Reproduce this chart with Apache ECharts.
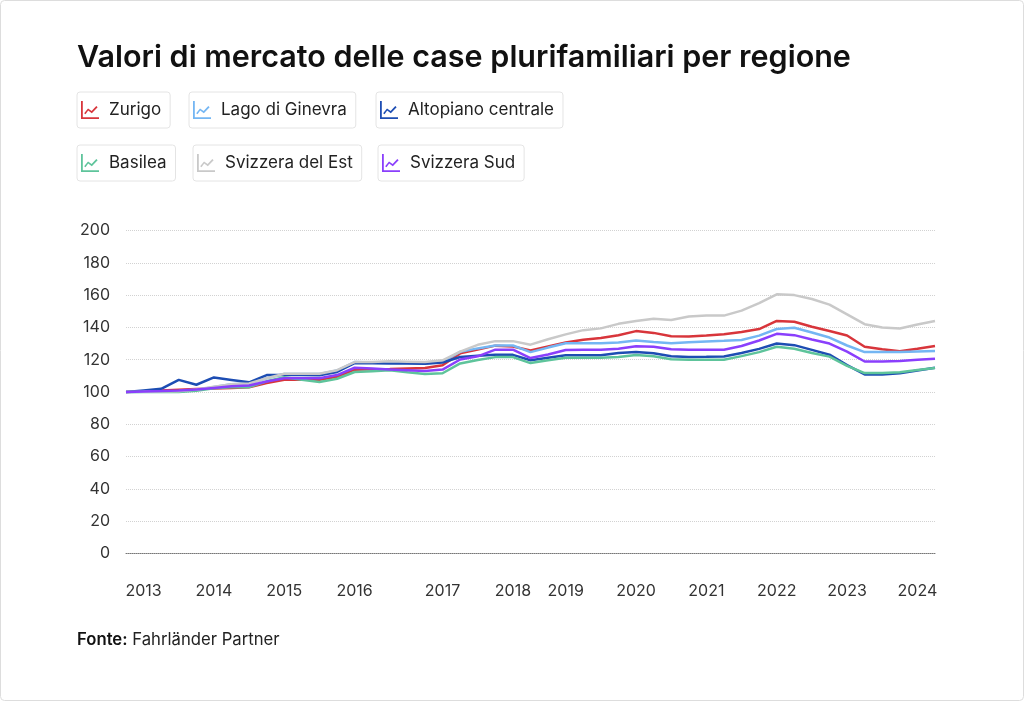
<!DOCTYPE html>
<html>
<head>
<meta charset="utf-8">
<script src="https://cdn.jsdelivr.net/npm/echarts@6/dist/echarts.min.js"></script>
<style>
  html, body { margin: 0; padding: 0; background: #fff; }
  #chart { width: 1024px; height: 701px; }
</style>
</head>
<body>
<div id="chart"></div>
<script>
// quarterly index values (2013 Q1 = 100)
const tickLabels = ['', '2013', '', '', '', '2014', '', '', '', '2015', '', '', '', '2016', '', '', '', '',
  '2017', '', '', '', '2018', '', '', '2019', '', '', '', '2020', '', '', '', '2021', '', '', '', '2022',
  '', '', '', '2023', '', '', '', '2024', ''];

const zurigo = [100, 100.5, 100.9, 101.4, 101.8, 102.2, 102.5, 102.9, 105.5, 107.6, 107.6, 107.6, 109.4, 113.8,
  114.1, 114.3, 114.6, 114.8, 116.6, 123.9, 126.3, 128.7, 128.2, 125.7, 128.2, 130.7, 132.4, 133.4, 135.1,
  137.7, 136.6, 134.5, 134.4, 135, 135.8, 137.2, 139, 144, 143.5, 140.4, 137.8, 135, 128, 126.5, 125.3, 126.8, 128.5];
const ginevra = [100, 100.1, 100.3, 100.4, 101.3, 103.1, 104.8, 105.3, 108.5, 111.2, 111.2, 111.2, 113.3, 118.5,
  118.3, 118.1, 117.9, 117.7, 118.8, 124.9, 127, 128.8, 128.8, 124.7, 127.5, 130.2, 130.2, 130.2, 130.7,
  131.9, 131, 130.2, 130.8, 131.3, 131.7, 132.2, 134.9, 139, 139.8, 136.8, 133.7, 128.8, 124.7, 124.7, 124.8, 125.1, 125.4];
const altopiano = [100, 101, 102, 107.5, 104.5, 109, 107.5, 106, 110.5, 110.5, 110.5, 110.4, 112.4, 117.9,
  117.8, 117.7, 117.6, 117.5, 118.3, 121.7, 122.5, 123.1, 123, 119.7, 121.2, 122.7, 122.7, 122.7, 124.1,
  124.7, 124, 122.2, 121.7, 121.8, 122, 124.2, 126.7, 130, 129, 126.1, 123.1, 116.7, 110.9, 110.9, 111.6, 113.3, 115];
const basilea = [100, 100, 100, 100, 100.7, 102.3, 103, 103, 106.6, 109.1, 107.6, 106.2, 108.2, 112.4,
  112.9, 113.4, 112.2, 111.2, 111.6, 117.7, 119.8, 121.6, 121.6, 117.9, 119.6, 121.2, 121.2, 121.2, 121.7,
  122.9, 122.2, 120.3, 120, 120, 120, 122.2, 124.7, 128, 126.8, 124.1, 121.9, 116.2, 111.7, 111.7, 112.3, 113.6, 114.8];
const svizzeraEst = [100, 100.1, 100.3, 100.5, 101.5, 103.3, 104.8, 105.3, 108.5, 111.3, 111.3, 111.3, 113.5, 118.5,
  118.6, 119, 118.8, 118.6, 119.6, 125, 129.2, 131.5, 131.5, 129.3, 132.7, 135.7, 138.3, 139.4, 142.2,
  143.9, 145.3, 144.6, 146.7, 147.3, 147.3, 150.4, 155, 160.5, 160, 157.6, 154.1, 148.1, 142, 139.9, 139.3, 141.8, 144];
const svizzeraSud = [100, 100.3, 100.6, 101, 101.5, 102.5, 103.5, 104, 106.5, 108.5, 108.5, 108.5, 110.5, 115,
  114.5, 114, 113.5, 113, 113.9, 120.1, 122.1, 126.2, 126.2, 121, 123.2, 126, 126.2, 126.2, 126.8,
  128.3, 128, 126.5, 126.2, 126.2, 126.2, 128.5, 131.9, 136, 135.2, 132.5, 130, 125, 118.9, 118.9, 119.2, 119.9, 120.6];

const FONT = 'Inter, "Noto Sans", sans-serif';
// small line-chart glyph used in the legend boxes
const chartIcon = 'path://M0,0h2v18h18v2H0z M3.5,13.5L7.8,8.2L11.8,11.2L17,5.5L18.5,7L12,13.6L8,10.6L5,14.8z';

const regions = [
  { name: 'Zurigo', data: zurigo, color: '#d8353b', left: 77, top: 92 },
  { name: 'Lago di Ginevra', data: ginevra, color: '#74b6f3', left: 189, top: 92 },
  { name: 'Altopiano centrale', data: altopiano, color: '#1d4db3', left: 376, top: 92 },
  { name: 'Basilea', data: basilea, color: '#5ec49b', left: 77, top: 145 },
  { name: 'Svizzera del Est', data: svizzeraEst, color: '#c9c9c9', left: 193, top: 145 },
  { name: 'Svizzera Sud', data: svizzeraSud, color: '#8a3ffc', left: 378, top: 145 }
];

let chart = echarts.init(document.getElementById('chart'));

chart.setOption({
  animation: false,
  textStyle: { fontFamily: FONT },
  title: [
    {
      text: 'Valori di mercato delle case plurifamiliari per regione',
      left: 77,
      top: 42,
      padding: 0,
      textStyle: { fontFamily: FONT, fontSize: 30.5, fontWeight: 600, color: '#111' }
    },
    {
      text: '{b|Fonte:} Fahrländer Partner',
      left: 77,
      top: 631,
      padding: 0,
      textStyle: {
        fontFamily: FONT, fontSize: 16.7, fontWeight: 'normal', color: '#222',
        rich: { b: { fontFamily: FONT, fontSize: 16.7, fontWeight: 600, color: '#111' } }
      }
    }
  ],
  legend: regions.map(r => ({
    data: [r.name],
    left: r.left,
    top: r.top,
    orient: 'horizontal',
    selectedMode: false,
    icon: chartIcon,
    itemWidth: 28,
    itemHeight: 18,
    itemStyle: { borderWidth: 0 },
    padding: [9, 9, 9, 4],
    borderColor: '#e4e4e4',
    borderWidth: 1,
    borderRadius: 3,
    textStyle: { fontFamily: FONT, fontSize: 17, color: '#222' }
  })),
  graphic: [{
    type: 'rect',
    shape: { x: 0.5, y: 0.5, width: 1023, height: 700, r: 4 },
    style: { fill: 'none', stroke: '#dddddd', lineWidth: 1 },
    silent: true,
    z: -1
  }],
  grid: { left: 126, right: 89, top: 230.5, height: 323 },
  xAxis: {
    type: 'category',
    data: tickLabels,
    boundaryGap: false,
    axisTick: { show: false },
    axisLine: { lineStyle: { color: '#777', width: 1, type: [1, 1] } },
    axisLabel: { interval: 0, margin: 30, fontFamily: FONT, fontSize: 16, color: '#333' },
    splitLine: { show: false }
  },
  yAxis: {
    type: 'value',
    min: 0,
    max: 200,
    interval: 20,
    axisLine: { show: false },
    axisTick: { show: false },
    axisLabel: { margin: 16, fontFamily: FONT, fontSize: 16, color: '#333' },
    splitLine: { lineStyle: { color: '#d2d2d2', width: 1, type: [1, 1] } }
  },
  series: regions.map(r => ({
    name: r.name,
    type: 'line',
    data: r.data,
    symbol: 'none',
    color: r.color,
    lineStyle: { width: 2.5, color: r.color },
    emphasis: { disabled: true }
  }))
});
</script>
</body>
</html>
